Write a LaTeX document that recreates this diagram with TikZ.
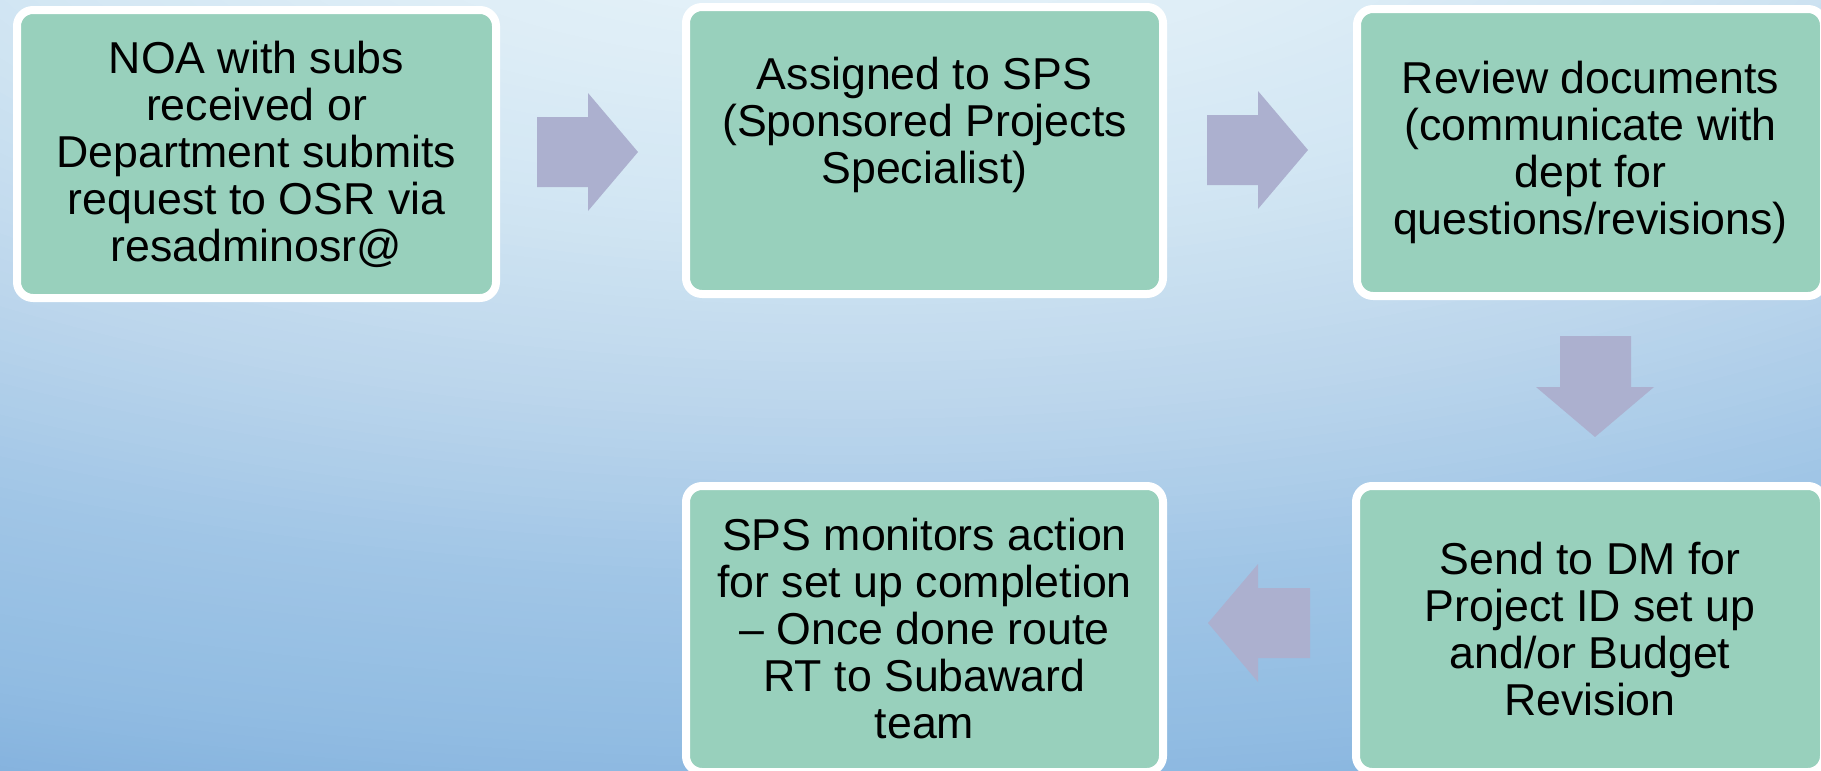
\documentclass[tikz,border=0pt]{standalone}
\usepackage{fontspec}
\setmainfont{Liberation Sans}
\definecolor{boxgreen}{RGB}{152,208,188}
\definecolor{arrowgrey}{RGB}{172,176,207}
\definecolor{g0}{RGB}{231,243,249}
\definecolor{g1}{RGB}{228,241,248}
\definecolor{g2}{RGB}{210,230,243}
\definecolor{g3}{RGB}{188,214,236}
\definecolor{g4}{RGB}{160,197,230}
\definecolor{g5}{RGB}{145,188,226}
\definecolor{g6}{RGB}{133,178,222}
\definecolor{g7}{RGB}{128,174,220}
\begin{document}
\begin{tikzpicture}[x=0.75pt,y=-0.75pt,
  stepbox/.style={draw=white, line width=6pt, fill=boxgreen, rounded corners=12pt,
    align=center, inner sep=0pt, font=\fontsize{33.5pt}{35.25pt}\selectfont},
  blockarrow/.style={fill=arrowgrey}]
\useasboundingbox (0,0) rectangle (1821,771);
\clip (0,0) rectangle (1821,771);
% background: elliptical radial gradient, light at top centre
\fill[g7] (0,0) rectangle (1821,771);
\foreach \ro/\ri/\co/\ci in {1100/990/g7/g6, 990/900/g6/g5, 900/740/g5/g4, 740/560/g4/g3, 560/370/g3/g2, 370/150/g2/g1, 150/0/g1/g0}{
  \foreach \k in {0,...,19}{
    \pgfmathsetmacro\rr{\ro-(\ro-\ri)*\k/20}
    \pgfmathtruncatemacro\pp{5*\k}
    \fill[\ci!\pp!\co] (850,-150) ellipse [x radius=2.5*\rr, y radius=\rr];
  }
}

\node[stepbox, minimum width=359.25pt, minimum height=216pt] (b1) at (256.5,154)
  {NOA with subs\\received or\\Department submits\\request to OSR via\\resadminosr@};
\node[stepbox, minimum width=357.75pt, minimum height=215.25pt] (b2) at (924.5,150.5)
  {Assigned to SPS\\(Sponsored Projects\\Specialist)\\\strut};
\node[stepbox, minimum width=350.25pt, minimum height=215.25pt] (b3) at (1590.5,152.5)
  {Review documents\\(communicate with\\dept for\\questions/revisions)};
\node[stepbox, minimum width=351pt, minimum height=214.5pt] (b5) at (1590,629)
  {Send to DM for\\Project ID set up\\and/or Budget\\Revision};
\node[stepbox, minimum width=357.75pt, minimum height=214.5pt] (b4) at (924.5,629)
  {SPS monitors action\\for set up completion\\– Once done route\\RT to Subaward\\team};

% block arrows
\fill[blockarrow] (537,117) -- (588,117) -- (588,93) -- (638,152) -- (588,211) -- (588,187) -- (537,187) -- cycle;
\fill[blockarrow] (1207,115) -- (1258,115) -- (1258,91) -- (1308,150) -- (1258,209) -- (1258,185) -- (1207,185) -- cycle;
\fill[blockarrow] (1560,336) -- (1631,336) -- (1631,387) -- (1654,387) -- (1595,437) -- (1536,387) -- (1560,387) -- cycle;
\fill[blockarrow] (1310,588) -- (1258,588) -- (1258,564) -- (1208,623) -- (1258,682) -- (1258,658) -- (1310,658) -- cycle;
\end{tikzpicture}
\end{document}
